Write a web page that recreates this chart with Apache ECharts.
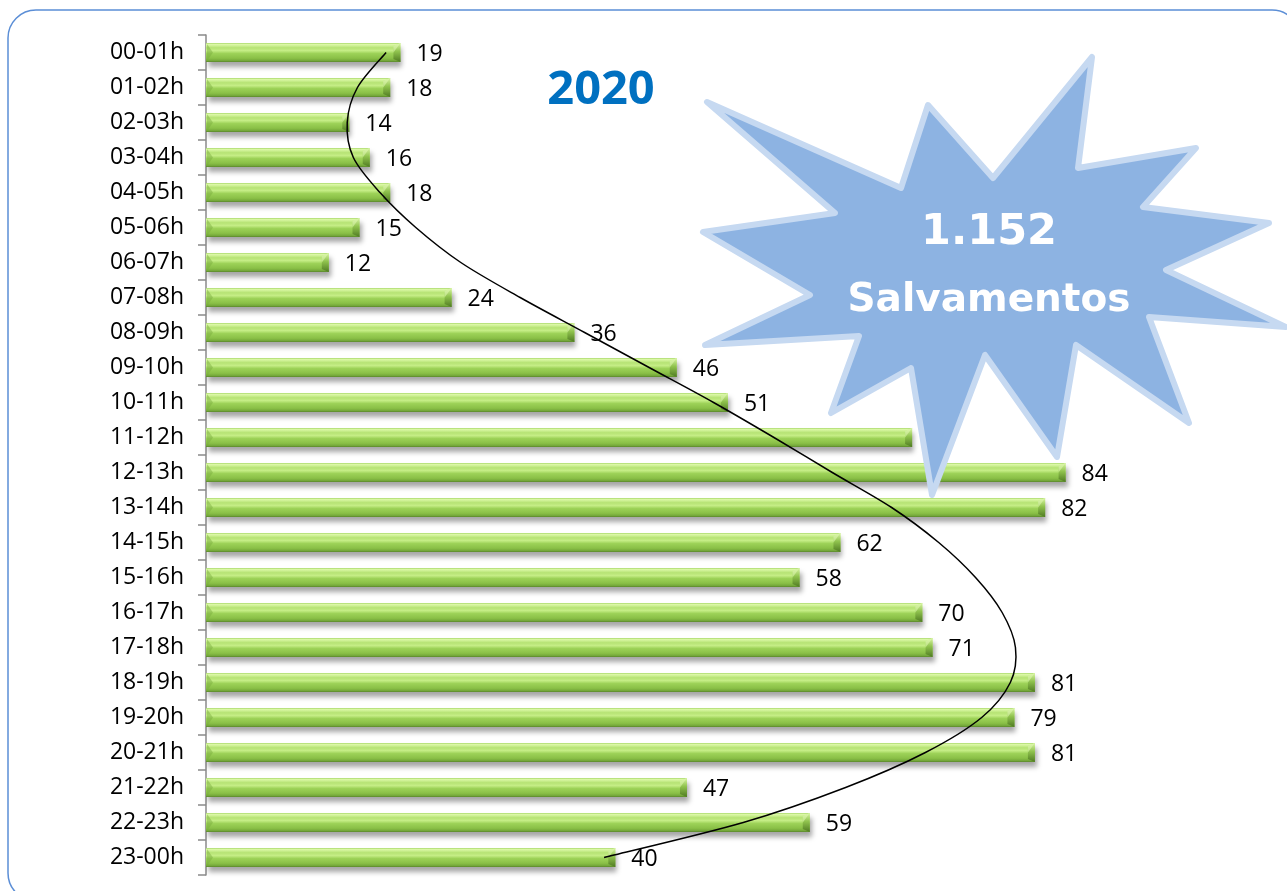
<!DOCTYPE html>
<html>
<head>
<meta charset="utf-8">
<script src="https://cdn.jsdelivr.net/npm/echarts@6/dist/echarts.min.js"></script>
<style>
  html, body { margin: 0; padding: 0; background: #fff; }
  #chart { width: 1287px; height: 891px; }
</style>
</head>
<body>
<div id="chart"></div>
<script>
// franjas horarias
const hours = ['00-01h', '01-02h', '02-03h', '03-04h', '04-05h', '05-06h', '06-07h', '07-08h',
  '08-09h', '09-10h', '10-11h', '11-12h', '12-13h', '13-14h', '14-15h', '15-16h', '16-17h',
  '17-18h', '18-19h', '19-20h', '20-21h', '21-22h', '22-23h', '23-00h'];
// salvamentos por hora
const rescues = [19, 18, 14, 16, 18, 15, 12, 24, 36, 46, 51, 69, 84, 82, 62, 58, 70, 71, 81, 79, 81, 47, 59, 40];
// linea de tendencia
const trend = [17.6, 14.8, 13.8, 14.4, 17.0, 20.5, 24.9, 30.7, 37.0, 43.3, 49.6, 55.5, 61.2, 67.0,
  71.6, 75.2, 77.8, 79.1, 78.6, 75.8, 70.3, 62.5, 52.5, 38.9];
// etiquetas que no aparecen
const hiddenLabels = ['11-12h'];
const yearTitle = '2020';
const totalText = ['1.152', 'Salvamentos'];

const chart = echarts.init(document.getElementById('chart'));
const BAR_W = 19;

const barColor = new echarts.graphic.LinearGradient(0, 0, 0, 1, [
  { offset: 0, color: '#a9d86c' },
  { offset: 0.08, color: '#dbf8a6' },
  { offset: 0.25, color: '#b6e374' },
  { offset: 0.4, color: '#c5ed86' },
  { offset: 0.55, color: '#9dd258' },
  { offset: 0.8, color: '#8ac047' },
  { offset: 0.92, color: '#76aa3b' },
  { offset: 1, color: '#5a872b' }
]);

const starPoints = [
  [707, 102], [901, 188], [928, 105], [993, 178], [1092, 57], [1078, 168],
  [1196, 148], [1143, 207], [1269, 223], [1166, 270], [1286, 327], [1149, 317],
  [1189, 423], [1076, 345], [1057, 457], [985, 355], [932, 495], [911, 368],
  [831, 413], [859, 336], [705, 345], [810, 295], [703, 232], [835, 213]
];

// biseles de los extremos de cada barra
function renderBevel(params, api) {
  const end = api.coord([api.value(0), api.value(1)]);
  const start = api.coord([0, api.value(1)]);
  const top = end[1] - BAR_W / 2;
  const bot = end[1] + BAR_W / 2;
  const d = 7;
  return {
    type: 'group',
    children: [
      {
        type: 'polygon',
        shape: { points: [[end[0], top], [end[0], bot], [end[0] - d, bot - 3], [end[0] - d, top + 3]] },
        style: {
          fill: new echarts.graphic.LinearGradient(0, 0, 0, 1, [
            { offset: 0, color: '#d9f6a4' },
            { offset: 0.45, color: '#8fc24d' },
            { offset: 1, color: '#4f7a22' }
          ])
        }
      },
      {
        type: 'polygon',
        shape: { points: [[end[0], top], [end[0] - d, top + 3], [end[0] - d, end[1]]] },
        style: { fill: 'rgba(225,250,180,0.55)' }
      },
      {
        type: 'polygon',
        shape: { points: [[start[0] + 1, top + 1], [start[0] + 1, bot - 1], [start[0] + d, end[1]]] },
        style: { fill: 'rgba(120,170,60,0.45)' }
      }
    ]
  };
}

// curva suave (Catmull-Rom) que pasa por los puntos de la tendencia
function renderTrend(params, api) {
  if (params.dataIndex !== 0) return;
  const pts = trend.map((v, i) => api.coord([v, i]));
  let d = 'M' + pts[0][0] + ' ' + pts[0][1];
  for (let i = 0; i < pts.length - 1; i++) {
    const p0 = pts[Math.max(i - 1, 0)];
    const p1 = pts[i];
    const p2 = pts[i + 1];
    const p3 = pts[Math.min(i + 2, pts.length - 1)];
    const c1 = [p1[0] + (p2[0] - p0[0]) / 6, p1[1] + (p2[1] - p0[1]) / 6];
    const c2 = [p2[0] - (p3[0] - p1[0]) / 6, p2[1] - (p3[1] - p1[1]) / 6];
    d += ' C' + c1[0] + ' ' + c1[1] + ' ' + c2[0] + ' ' + c2[1] + ' ' + p2[0] + ' ' + p2[1];
  }
  return {
    type: 'path',
    shape: { pathData: d },
    style: { stroke: '#000', fill: 'none', lineWidth: 1.5 }
  };
}

chart.setOption({
  animation: false,
  textStyle: { fontFamily: 'Open Sans' },
  grid: { left: 206, top: 35, bottom: 16, right: 160 },
  xAxis: {
    type: 'value',
    min: 0,
    max: 90,
    show: false
  },
  yAxis: {
    type: 'category',
    data: hours,
    inverse: true,
    axisLine: { show: true, lineStyle: { color: '#8a8a8a', width: 1.5 } },
    axisTick: { show: true, length: 8, lineStyle: { color: '#8a8a8a', width: 1.5 } },
    axisLabel: { color: '#000', fontSize: 23, margin: 22 },
    splitLine: { show: false }
  },
  series: [
    {
      type: 'bar',
      barWidth: BAR_W,
      data: rescues.map((v, i) => hiddenLabels.includes(hours[i]) ? { value: v, label: { show: false } } : v),
      itemStyle: {
        color: barColor,
        shadowBlur: 5,
        shadowColor: 'rgba(0,0,0,0.35)',
        shadowOffsetX: 2,
        shadowOffsetY: 5
      },
      label: {
        show: true,
        position: 'right',
        distance: 16,
        offset: [0, 2],
        color: '#000',
        fontSize: 23
      },
      z: 2
    },
    {
      type: 'custom',
      data: rescues.map((v, i) => [v, i]),
      encode: { x: 0, y: 1 },
      renderItem: renderBevel,
      silent: true,
      z: 2.5
    },
    {
      type: 'custom',
      data: trend.map((v, i) => [v, i]),
      encode: { x: 0, y: 1 },
      renderItem: renderTrend,
      silent: true,
      clip: false,
      z: 3
    }
  ],
  graphic: [
    {
      type: 'rect',
      shape: { x: 8, y: 10, width: 1292, height: 891, r: 28 },
      style: { fill: 'none', stroke: '#5b8ed6', lineWidth: 1.5 },
      z: 0
    },
    {
      type: 'text',
      x: 601,
      y: 91,
      style: { text: yearTitle, fill: '#0070c0', font: 'bold 47px "Open Sans"', align: 'center', verticalAlign: 'middle' },
      z: 10
    },
    {
      type: 'polygon',
      shape: { points: starPoints },
      style: { fill: '#8db3e2', stroke: '#c6d9f1', lineWidth: 6, lineJoin: 'round' },
      z: 10
    },
    {
      type: 'text',
      x: 989,
      y: 233,
      style: { text: totalText[0], fill: '#fff', font: 'bold 43px "DejaVu Sans"', align: 'center', verticalAlign: 'middle' },
      z: 11
    },
    {
      type: 'text',
      x: 989,
      y: 301,
      style: { text: totalText[1], fill: '#fff', font: 'bold 39px "DejaVu Sans"', align: 'center', verticalAlign: 'middle' },
      z: 11
    }
  ]
});
</script>
</body>
</html>
